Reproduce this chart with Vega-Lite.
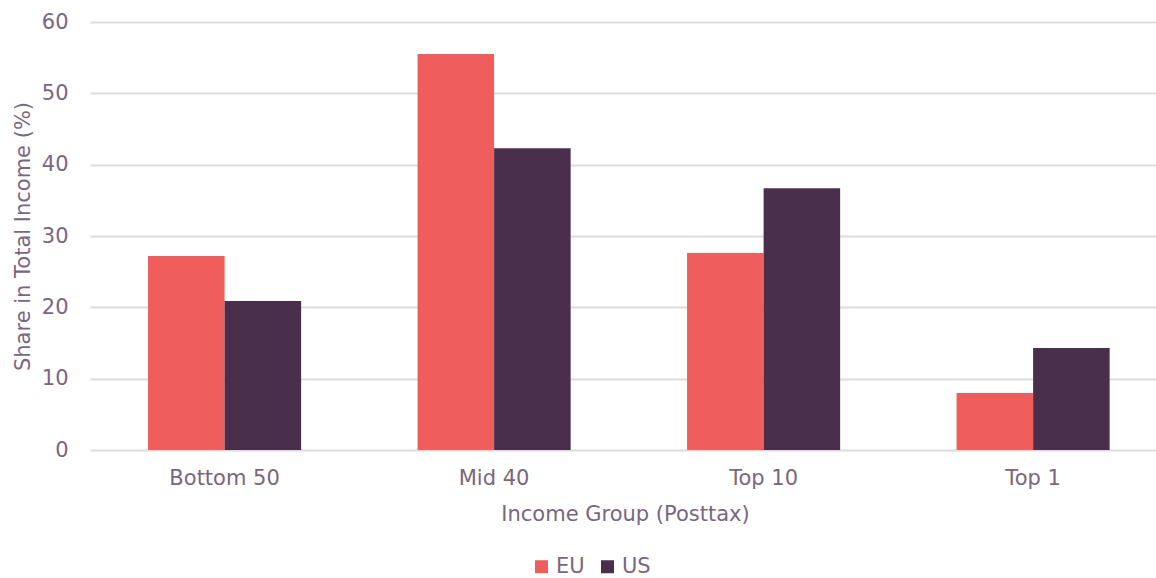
{
  "$schema": "https://vega.github.io/schema/vega-lite/v6.json",
  "autosize": "none",
  "width": 1066,
  "height": 428,
  "padding": {"left": 90, "top": 22, "right": 0, "bottom": 128},
  "background": "white",
  "data": {
    "values": [
      {"group": "Bottom 50", "region": "EU", "share": 27.2},
      {"group": "Bottom 50", "region": "US", "share": 20.9},
      {"group": "Mid 40", "region": "EU", "share": 55.5},
      {"group": "Mid 40", "region": "US", "share": 42.3},
      {"group": "Top 10", "region": "EU", "share": 27.6},
      {"group": "Top 10", "region": "US", "share": 36.7},
      {"group": "Top 1", "region": "EU", "share": 8.0},
      {"group": "Top 1", "region": "US", "share": 14.3}
    ]
  },
  "mark": {"type": "bar"},
  "encoding": {
    "x": {
      "field": "group",
      "type": "nominal",
      "sort": ["Bottom 50", "Mid 40", "Top 10", "Top 1"],
      "scale": {"paddingInner": 0.432, "paddingOuter": 0.1937, "align": 0.556},
      "axis": {
        "title": "Income Group (Posttax)",
        "labelAngle": 0,
        "domain": false,
        "ticks": false,
        "labelPadding": 17,
        "titlePadding": 15,
        "titleX": 535
      }
    },
    "xOffset": {"field": "region", "type": "nominal", "sort": ["EU", "US"], "scale": {"paddingInner": 0, "paddingOuter": 0}},
    "y": {
      "field": "share",
      "type": "quantitative",
      "scale": {"domain": [0, 60]},
      "axis": {
        "title": "Share in Total Income (%)",
        "values": [0, 10, 20, 30, 40, 50, 60],
        "domain": false,
        "ticks": false,
        "labelPadding": 22,
        "titlePadding": 8
      }
    },
    "color": {
      "field": "region",
      "type": "nominal",
      "sort": ["EU", "US"],
      "scale": {"domain": ["EU", "US"], "range": ["#EF5D5D", "#4A2F4D"]},
      "legend": {
        "title": null,
        "orient": "none",
        "direction": "horizontal",
        "legendX": 441,
        "legendY": 534,
        "symbolType": "square",
        "symbolSize": 169,
        "symbolStrokeWidth": 0,
        "labelFontSize": 21,
        "labelColor": "#7a6680",
        "columnPadding": 12,
        "labelOffset": 4
      }
    }
  },
  "config": {
    "font": "DejaVu Sans",
    "view": {"stroke": null},
    "axis": {
      "labelFont": "DejaVu Sans",
      "titleFont": "DejaVu Sans",
      "labelFontSize": 21,
      "titleFontSize": 21,
      "labelColor": "#7a6680",
      "titleColor": "#7a6680",
      "titleFontWeight": "normal",
      "gridColor": "#dcdcdc",
      "gridWidth": 2
    },
    "legend": {"labelFont": "DejaVu Sans"}
  }
}
